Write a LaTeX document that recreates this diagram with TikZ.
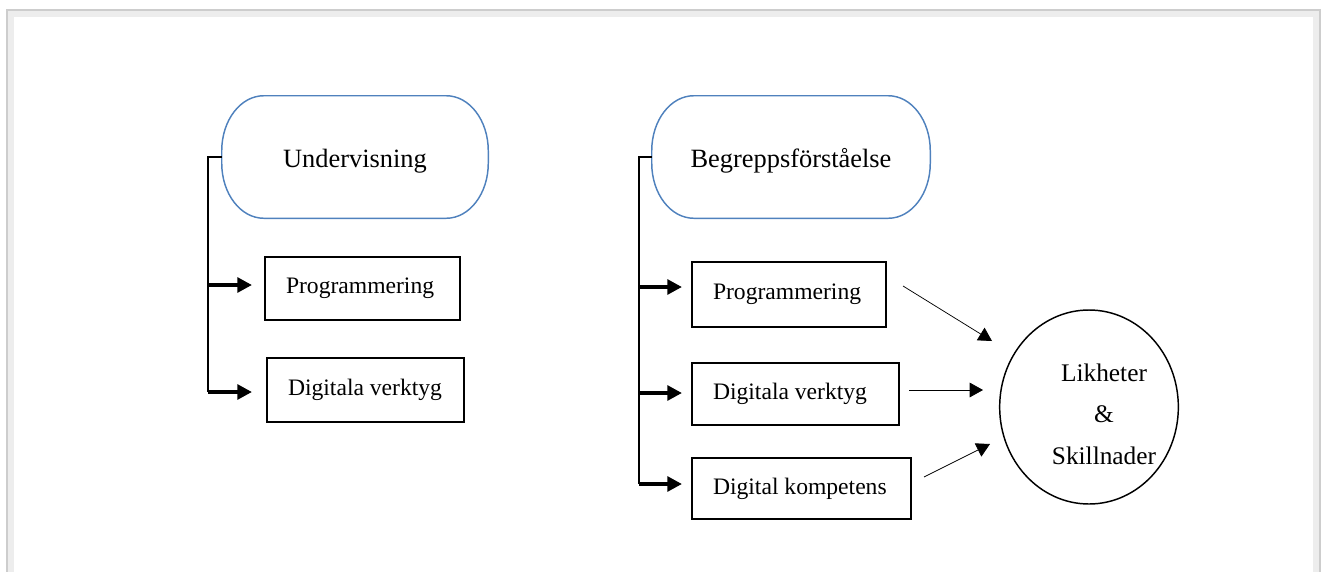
\documentclass[tikz,border=0pt]{standalone}
\usepackage{fontspec}
\setmainfont{Liberation Serif}
\usetikzlibrary{arrows.meta,shapes.geometric,calc}
\definecolor{ofblue}{HTML}{4F81BD}
\definecolor{framegray}{HTML}{CDCDCD}
\definecolor{shadegray}{HTML}{EDEDED}

\begin{document}
\begin{tikzpicture}[x=0.75pt,y=-0.75pt,
  title/.style={rectangle, minimum height=91.5pt, inner sep=0pt, text height=19.5pt,
    font=\fontsize{19.8}{24}\selectfont},
  bx/.style={draw=black, line width=0.9pt, inner xsep=15.75pt, inner ysep=0pt,
    font=\fontsize{17.7}{21}\selectfont},
  outline/.style={draw=ofblue, line width=1.1pt},
  spine/.style={draw=black, line width=0.9pt},
  fat/.style={draw=black, line width=3pt, -{Triangle[length=11pt,width=11pt]}},
  thin/.style={draw=black, line width=0.55pt, -{Triangle[length=10pt,width=11pt]}},
  oval/.style={draw=black, line width=1.1pt, ellipse, inner sep=0pt}
]
\useasboundingbox (0,0) rectangle (1331,571);

% page frame with a soft inner shade
\begin{scope}
  \clip (0,0) rectangle (1331,571);
  \draw[shadegray, line width=4.5pt] (11,14) rectangle (1316,640);
  \draw[framegray, line width=1.6pt] (7,10) rectangle (1320,640);
\end{scope}

% rounded outline with elliptical ends around a title node
\newcommand\capsule[1]{%
  \draw[outline] ([xshift=31.5pt]#1.north west) -- ([xshift=-31.5pt]#1.north east)
    arc[start angle=90, end angle=0, x radius=31.5pt, y radius=41.25pt]
    -- ([yshift=41.25pt]#1.south east)
    arc[start angle=0, end angle=-90, x radius=31.5pt, y radius=41.25pt]
    -- ([xshift=31.5pt]#1.south west)
    arc[start angle=270, end angle=180, x radius=31.5pt, y radius=41.25pt]
    -- ([yshift=-41.25pt]#1.north west)
    arc[start angle=180, end angle=90, x radius=31.5pt, y radius=41.25pt]
    -- cycle;}

% ---- left group ----
\node[title, minimum width=199.5pt] (U) at (355,157) {Undervisning};
\capsule{U}
\node[bx, minimum height=47.25pt] (L1) at (362.5,288.5) {\makebox[114.75pt][l]{Programmering}};
\node[bx, minimum height=48pt] (L2) at (365.5,390) {\makebox[116.25pt][l]{Digitala verktyg}};

\coordinate (lbot) at (208,392);
\coordinate (l1in) at (252,285);
\coordinate (l2in) at (252,392);
\draw[spine] (U.west) -| (lbot);
\draw[fat] (lbot |- l1in) -- (l1in);
\draw[fat] (lbot) -- (l2in);

% ---- right group ----
\node[title, minimum width=208.5pt] (B) at (791,157) {Begreppsförståelse};
\capsule{B}
\node[bx, minimum height=48.75pt] (R1) at (789,294.5) {\makebox[114pt][l]{Programmering}};
\node[bx, minimum height=46.5pt] (R2) at (795.5,394) {\makebox[123.75pt][l]{Digitala verktyg}};
\node[bx, minimum height=45.75pt] (R3) at (801.5,488.5) {\makebox[132.75pt][l]{Digital kompetens}};

\coordinate (rbot) at (639,484);
\coordinate (r1in) at (682,287);
\coordinate (r2in) at (682,393);
\coordinate (r3in) at (682,484);
\draw[spine] (B.west) -| (rbot);
\draw[fat] (rbot |- r1in) -- (r1in);
\draw[fat] (rbot |- r2in) -- (r2in);
\draw[fat] (rbot) -- (r3in);

% ---- result ----
\node[oval, minimum width=134pt, minimum height=145.5pt] (C) at (1089,407) {};
\node[align=center, font=\fontsize{19}{31}\selectfont] (Ct) at (1104,414)
  {Likheter\\\&\\Skillnader};

\coordinate (p1s) at (903,286);
\coordinate (p1e) at (992,341);
\coordinate (p2s) at (909,390);
\coordinate (p2e) at (983,390);
\coordinate (p3s) at (924,477);
\coordinate (p3e) at (990,444);
\draw[thin] (p1s) -- (p1e);
\draw[thin] (p2s) -- (p2e);
\draw[thin] (p3s) -- (p3e);
\end{tikzpicture}
\end{document}
